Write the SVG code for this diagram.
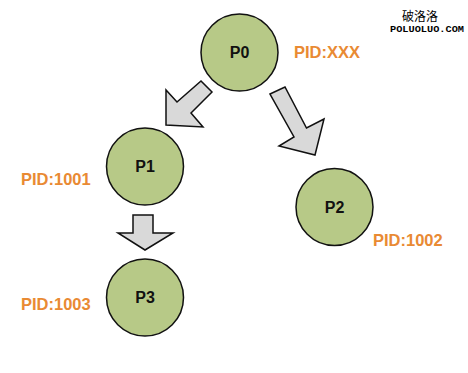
<svg xmlns="http://www.w3.org/2000/svg" width="468" height="373" viewBox="0 0 468 373">
<style>
.node{fill:#b7c987;stroke:#111;stroke-width:1.5}
.arrow{fill:#d9d9d9;stroke:#111;stroke-width:1.5;stroke-linejoin:miter}
.lbl{font-family:"Liberation Sans",Arial,sans-serif;font-weight:bold;font-size:16px;fill:#111;text-anchor:middle}
.pid{font-family:"Liberation Sans",Arial,sans-serif;font-weight:bold;font-size:16.5px;fill:#e98a33}
</style>
<rect width="468" height="373" fill="#fff"/>
<g id="connectors">
<polygon class="arrow" points="166,125 166,90 177,102 201,81 212,92 191,113 203,127"/>
<polygon class="arrow" points="270,94 285,87 306.5,128 324,119 315,155 279,146 294,137"/>
<polygon class="arrow" points="133,215 153,215 153,233 173,233 145,250 118,233 133,233"/>
</g>
<g id="P0">
<circle class="node" cx="239.5" cy="52.5" r="38.5"/>
<text class="lbl" x="239.5" y="58">P0</text>
<text class="pid" x="294" y="58">PID:XXX</text>
</g>
<g id="P1">
<circle class="node" cx="145" cy="166.5" r="38.5"/>
<text class="lbl" x="145" y="172">P1</text>
<text class="pid" x="21" y="184.5">PID:1001</text>
</g>
<g id="P2">
<circle class="node" cx="334.5" cy="207" r="38.5"/>
<text class="lbl" x="334.5" y="212.5">P2</text>
<text class="pid" x="373" y="246">PID:1002</text>
</g>
<g id="P3">
<circle class="node" cx="145" cy="297.5" r="38.5"/>
<text class="lbl" x="145" y="303">P3</text>
<text class="pid" x="21" y="310">PID:1003</text>
</g>
<g id="watermark">
<text x="420" y="21" font-family="'Noto Sans CJK SC',sans-serif" font-size="12" text-anchor="middle" fill="#000">破洛洛</text>
<text x="390" y="32" font-family="'Liberation Mono',monospace" font-size="9" font-weight="bold" textLength="74" lengthAdjust="spacingAndGlyphs" fill="#000">POLUOLUO.COM</text>
</g>
</svg>
